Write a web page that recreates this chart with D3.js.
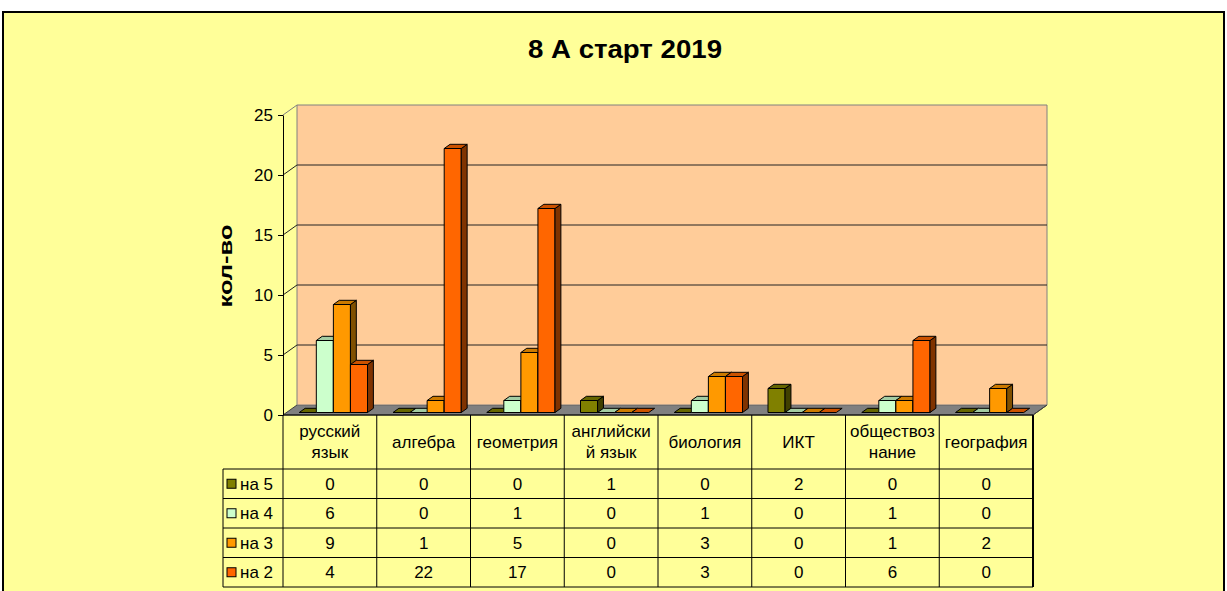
<!DOCTYPE html>
<html>
<head>
<meta charset="utf-8">
<script src="https://cdn.jsdelivr.net/npm/d3@7"></script>
<style>
  body { margin: 0; background: #fff; }
  svg { display: block; font-family: "Liberation Sans", Arial, sans-serif; }
</style>
</head>
<body>
<div id="chart"></div>
<script>
// data
const categories = ["русский язык", "алгебра", "геометрия", "английский язык", "биология", "ИКТ", "обществознание", "география"];
const catLabels = [["русский", "язык"], ["алгебра"], ["геометрия"], ["английски", "й язык"], ["биология"], ["ИКТ"], ["обществоз", "нание"], ["география"]];
const seriesNames = ["на 5", "на 4", "на 3", "на 2"];
const na5 = [0, 0, 0, 1, 0, 2, 0, 0];
const na4 = [6, 0, 1, 0, 1, 0, 1, 0];
const na3 = [9, 1, 5, 0, 3, 0, 1, 2];
const na2 = [4, 22, 17, 0, 3, 0, 6, 0];
const yTicks = [0, 5, 10, 15, 20, 25];

const seriesValues = [na5, na4, na3, na2];
// front / top / side colours for the 3d columns
const colFront = ["#808000", "#CCFFCC", "#FF9900", "#FF6600"];
const colTop = ["#666600", "#A3CCA3", "#CC7A00", "#CC5200"];
const colSide = ["#404000", "#7A997A", "#805000", "#803300"];

const width = 1227, height = 591;
const plot = {left: 283, right: 1033, top: 115, bottom: 415};
const depthX = 14, depthY = 10; // floor depth offset
const fs = "17px";

const svg = d3.create("svg")
    .attr("width", width)
    .attr("height", height)
    .attr("viewBox", [0, 0, width, height]);

// chart area background
svg.append("rect")
    .attr("x", 3).attr("y", 12)
    .attr("width", 1221).attr("height", 620)
    .attr("fill", "#FFFF99")
    .attr("stroke", "#000")
    .attr("stroke-width", 2);

// title
svg.append("text")
    .attr("x", 625).attr("y", 58)
    .attr("text-anchor", "middle")
    .style("font-size", "25px")
    .style("font-weight", "bold")
    .attr("textLength", 194)
    .attr("lengthAdjust", "spacingAndGlyphs")
    .text("8 А старт 2019");

// scales
const x = d3.scaleBand().domain(categories).range([plot.left, plot.right]);
const y = d3.scaleLinear().domain([0, 25]).range([plot.bottom, plot.top]);
const rows = d3.scaleBand().domain(seriesNames).range([469, 587]);

// helper: point at value v, x pos px, depth fraction f
const P = (px, v, f) => [px + f * depthX, y(v) - f * depthY];
const poly = pts => pts.map(p => p.join(",")).join(" ");

// floor
svg.append("polygon")
    .attr("points", poly([P(plot.left, 0, 0), P(plot.left, 0, 1), P(plot.right, 0, 1), P(plot.right, 0, 0)]))
    .attr("fill", "#808080")
    .attr("stroke", "#404040");

// back wall
svg.append("polygon")
    .attr("points", poly([P(plot.left, 0, 1), P(plot.left, 25, 1), P(plot.right, 25, 1), P(plot.right, 0, 1)]))
    .attr("fill", "#FFCC99")
    .attr("stroke", "#808080");

// gridlines on the wall + diagonals on the side
yTicks.filter(t => t > 0 && t < 25).forEach(t => {
  svg.append("polyline")
    .attr("points", poly([P(plot.left, t, 0), P(plot.left, t, 1), P(plot.right, t, 1)]))
    .attr("fill", "none")
    .attr("stroke", "#222");
});
svg.append("line")
    .attr("x1", P(plot.left, 25, 0)[0]).attr("y1", P(plot.left, 25, 0)[1])
    .attr("x2", P(plot.left, 25, 1)[0]).attr("y2", P(plot.left, 25, 1)[1])
    .attr("stroke", "#808080");

// y axis
const yAxis = svg.append("g")
    .attr("transform", `translate(${plot.left},0)`)
    .call(d3.axisLeft(y).tickValues(yTicks).tickSize(5).tickSizeOuter(0).tickPadding(5));
yAxis.selectAll("text").style("font-size", fs).style("font-family", "inherit").attr("fill", "#000").attr("dy", "0.35em");
yAxis.selectAll("line,path").attr("stroke", "#000");

svg.append("text")
    .attr("transform", "translate(232,266) rotate(-90)")
    .attr("text-anchor", "middle")
    .style("font-size", "18px")
    .style("font-weight", "bold")
    .attr("textLength", 83)
    .attr("lengthAdjust", "spacingAndGlyphs")
    .text("кол-во");

// 3d columns
const barW = x.bandwidth() * 0.182;
const f0 = 0.25, f1 = 0.67;
const bars = svg.append("g").attr("stroke", "#000").attr("stroke-width", 1).attr("stroke-linejoin", "round");
categories.forEach((c, i) => {
  const groupW = barW * seriesNames.length;
  const start = x(c) + (x.bandwidth() - groupW) / 2;
  seriesValues.forEach((vals, j) => {
    const v = vals[i];
    const x0 = start + j * barW, x1 = x0 + barW;
    if (v > 0) {
      bars.append("polygon")
        .attr("points", poly([P(x0, 0, f0), P(x0, v, f0), P(x1, v, f0), P(x1, 0, f0)]))
        .attr("fill", colFront[j]);
      bars.append("polygon")
        .attr("points", poly([P(x1, 0, f0), P(x1, v, f0), P(x1, v, f1), P(x1, 0, f1)]))
        .attr("fill", colSide[j]);
    }
    bars.append("polygon")
      .attr("points", poly([P(x0, v, f0), P(x0, v, f1), P(x1, v, f1), P(x1, v, f0)]))
      .attr("fill", colTop[j]);
  });
});

// data table
const table = svg.append("g");
const lineC = "#000";

// category row + grid
table.append("line")
    .attr("x1", plot.left).attr("x2", plot.right)
    .attr("y1", 415).attr("y2", 415).attr("stroke", lineC);
[469, ...seriesNames.map(s => rows(s) + rows.bandwidth())].forEach(yy => {
  table.append("line")
    .attr("x1", 223).attr("x2", plot.right)
    .attr("y1", yy).attr("y2", yy).attr("stroke", lineC);
});
const colEdges = categories.map(c => x(c)).concat([plot.right]);
colEdges.forEach(xx => {
  table.append("line")
    .attr("x1", xx).attr("x2", xx)
    .attr("y1", 415).attr("y2", 587)
    .attr("stroke", lineC)
    .attr("stroke-width", xx === plot.right ? 2 : 1);
});
table.append("line")
    .attr("x1", 223).attr("x2", 223)
    .attr("y1", 469).attr("y2", 587).attr("stroke", lineC);

// right edge of the floor going down to the table
svg.append("line")
    .attr("x1", P(plot.right, 0, 0)[0]).attr("y1", P(plot.right, 0, 0)[1])
    .attr("x2", P(plot.right, 0, 1)[0]).attr("y2", P(plot.right, 0, 1)[1])
    .attr("stroke", "#404040");

// category labels
categories.forEach((c, i) => {
  const lines = catLabels[i];
  const cx = x(c) + x.bandwidth() / 2;
  const t = table.append("text")
      .attr("text-anchor", "middle")
      .style("font-size", fs);
  lines.forEach((l, k) => {
    const base = lines.length === 1 ? 448 : 437 + k * 21;
    t.append("tspan").attr("x", cx).attr("y", base).text(l);
  });
});

// legend keys and values
seriesNames.forEach((s, j) => {
  const cy = rows(s) + rows.bandwidth() / 2;
  table.append("rect")
    .attr("x", 227).attr("y", cy - 4.5)
    .attr("width", 9).attr("height", 9)
    .attr("fill", colFront[j])
    .attr("stroke", "#000");
  table.append("text")
    .attr("x", 240).attr("y", cy + 6)
    .style("font-size", fs)
    .text(s);
  categories.forEach((c, i) => {
    table.append("text")
      .attr("x", x(c) + x.bandwidth() / 2)
      .attr("y", cy + 6)
      .attr("text-anchor", "middle")
      .style("font-size", fs)
      .text(seriesValues[j][i]);
  });
});

document.getElementById("chart").appendChild(svg.node());
</script>
</body>
</html>
